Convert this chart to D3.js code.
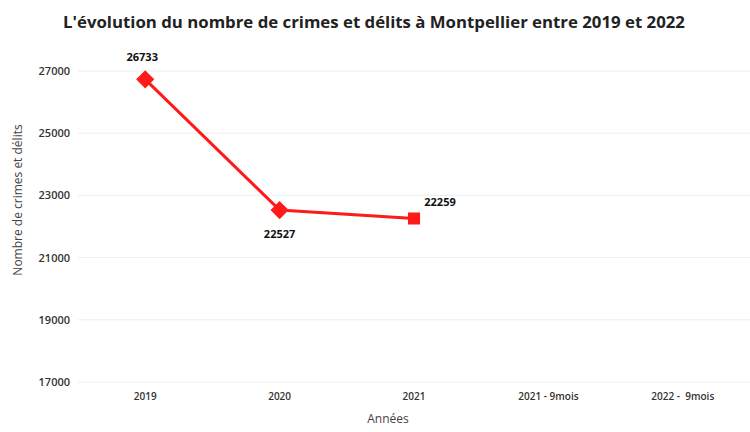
<!DOCTYPE html>
<html>
<head>
<meta charset="utf-8">
<script src="https://cdn.jsdelivr.net/npm/d3@7"></script>
<style>
  body { margin: 0; background: #fff; }
  text { font-family: "Open Sans", sans-serif; }
</style>
</head>
<body>
<div id="chart"></div>
<script>
// Data
const categories = ["2019", "2020", "2021", "2021 - 9mois", "2022 -  9mois"];
const values = [26733, 22527, 22259, null, null];
const markerShapes = ["diamond", "diamond", "square", null, null];
const yTicks = [17000, 19000, 21000, 23000, 25000, 27000];

const width = 750;
const height = 432;
const margin = { top: 71, right: 0, bottom: 50, left: 78 };

const svg = d3.select("#chart")
  .append("svg")
  .attr("width", width)
  .attr("height", height)
  .style("background", "#fff");

// Scales
const xScale = d3.scaleBand()
  .domain(categories)
  .range([margin.left, width - margin.right]);

const yScale = d3.scaleLinear()
  .domain([17000, 27000])
  .range([height - margin.bottom, margin.top]);

// Grid
svg.append("g")
  .selectAll("line")
  .data(yTicks)
  .enter()
  .append("line")
  .attr("x1", margin.left)
  .attr("x2", width)
  .attr("y1", d => yScale(d))
  .attr("y2", d => yScale(d))
  .attr("stroke", "#eeeeee")
  .attr("stroke-width", 1);

// Y axis
const yAxis = d3.axisLeft(yScale)
  .tickValues(yTicks)
  .tickFormat(d3.format("d"))
  .tickSize(0)
  .tickPadding(8);

svg.append("g")
  .attr("class", "y-axis")
  .attr("transform", `translate(${margin.left}, 0)`)
  .call(yAxis)
  .call(g => g.select(".domain").remove())
  .selectAll("text")
  .attr("font-size", 11)
  .attr("font-weight", 600)
  .attr("fill", "#333");

// X axis
const xAxis = d3.axisBottom(xScale)
  .tickSize(0)
  .tickPadding(11);

svg.append("g")
  .attr("class", "x-axis")
  .attr("transform", `translate(0, ${height - margin.bottom})`)
  .call(xAxis)
  .call(g => g.select(".domain").remove())
  .selectAll("text")
  .attr("font-size", 10)
  .attr("font-weight", 600)
  .attr("fill", "#333")
  .style("white-space", "pre");

// Line
const points = categories
  .map((c, i) => ({ cat: c, value: values[i], shape: markerShapes[i] }))
  .filter(d => d.value !== null);

const line = d3.line()
  .x(d => xScale(d.cat) + xScale.bandwidth() / 2)
  .y(d => yScale(d.value));

svg.append("path")
  .datum(points)
  .attr("d", line)
  .attr("fill", "none")
  .attr("stroke", "#ff1a1a")
  .attr("stroke-width", 3);

// Markers
svg.selectAll(".marker")
  .data(points)
  .enter()
  .append("path")
  .attr("class", "marker")
  .attr("transform", d => `translate(${xScale(d.cat) + xScale.bandwidth() / 2}, ${yScale(d.value)})`)
  .attr("d", d => d.shape === "diamond"
    ? d3.symbol().type(d3.symbolDiamond2).size(150)()
    : d3.symbol().type(d3.symbolSquare2).size(130)())
  .attr("fill", "#ff1a1a")
  .attr("stroke", "#ff1a1a")
  .attr("stroke-width", 2);

// Data labels
const labelOffsets = [[-3, -18], [0, 28], [26, -12]];
svg.selectAll(".point-label")
  .data(points)
  .enter()
  .append("text")
  .attr("class", "point-label")
  .attr("x", (d, i) => xScale(d.cat) + xScale.bandwidth() / 2 + labelOffsets[i][0])
  .attr("y", (d, i) => yScale(d.value) + labelOffsets[i][1])
  .attr("text-anchor", "middle")
  .attr("font-size", 11)
  .attr("font-weight", 700)
  .attr("fill", "#111")
  .text(d => d.value);

// Title
svg.append("text")
  .attr("x", 374)
  .attr("y", 28)
  .attr("text-anchor", "middle")
  .attr("font-size", 16.8)
  .attr("font-weight", 700)
  .attr("fill", "#222")
  .text("L'évolution du nombre de crimes et délits à Montpellier entre 2019 et 2022");

// Axis titles
svg.append("text")
  .attr("transform", "translate(22, 200) rotate(-90)")
  .attr("text-anchor", "middle")
  .attr("font-size", 12)
  .attr("fill", "#444")
  .text("Nombre de crimes et délits");

svg.append("text")
  .attr("x", 388)
  .attr("y", 423)
  .attr("text-anchor", "middle")
  .attr("font-size", 12)
  .attr("fill", "#444")
  .text("Années");
</script>
</body>
</html>
